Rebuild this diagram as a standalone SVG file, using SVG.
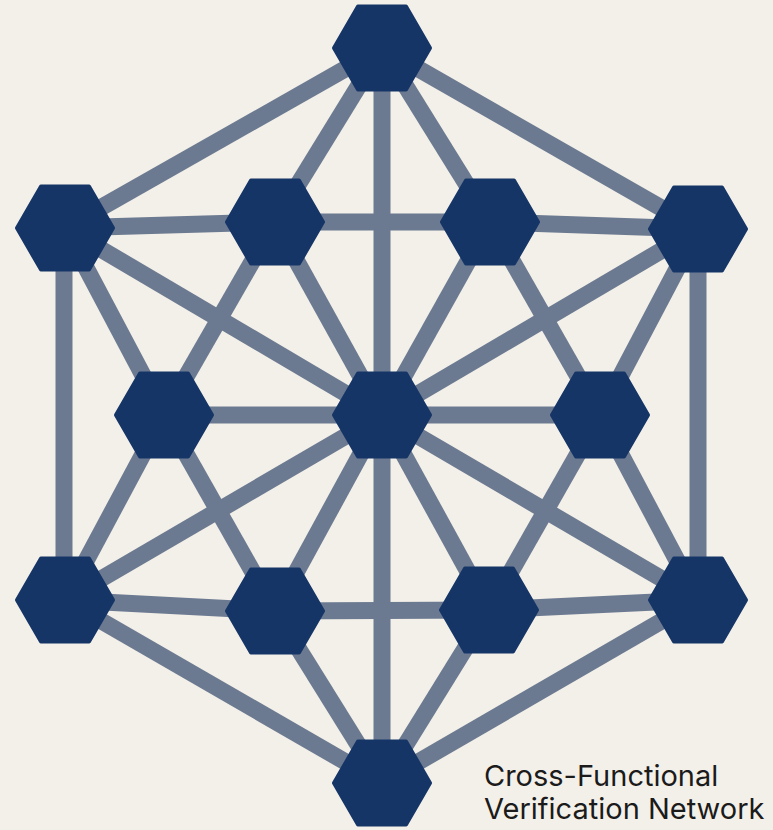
<svg xmlns="http://www.w3.org/2000/svg" xmlns:xlink="http://www.w3.org/1999/xlink" width="773" height="830" viewBox="0 0 773 830">
<style>
.edge{stroke:#6c7a91;stroke-width:17;stroke-linecap:butt;fill:none}
.hex{fill:#163567;stroke:#163567;stroke-width:4;stroke-linejoin:round}
.lbl{font-family:Inter,"Liberation Sans",sans-serif;font-size:29px;fill:#1b1b1b}
</style>
<defs>
<polygon id="hx" points="-48,0 -24,-41.6 24,-41.6 48,0 24,41.6 -24,41.6"/>
</defs>
<rect width="773" height="830" fill="#f3f0e9"/>
<g id="connectors">
<line class="edge" x1="382" y1="48" x2="65" y2="228"/>
<line class="edge" x1="382" y1="48" x2="275" y2="222"/>
<line class="edge" x1="382" y1="48" x2="382" y2="415"/>
<line class="edge" x1="382" y1="48" x2="490" y2="222"/>
<line class="edge" x1="382" y1="48" x2="698" y2="229"/>
<line class="edge" x1="65" y1="228" x2="275" y2="222"/>
<line class="edge" x1="65" y1="228" x2="164" y2="415"/>
<line class="edge" x1="65" y1="228" x2="382" y2="415"/>
<line class="edge" x1="64" y1="228" x2="64" y2="600"/>
<line class="edge" x1="275" y1="222" x2="490" y2="222"/>
<line class="edge" x1="275" y1="222" x2="164" y2="415"/>
<line class="edge" x1="275" y1="222" x2="382" y2="415"/>
<line class="edge" x1="490" y1="222" x2="698" y2="229"/>
<line class="edge" x1="490" y1="222" x2="382" y2="415"/>
<line class="edge" x1="490" y1="222" x2="600" y2="415"/>
<line class="edge" x1="698" y1="229" x2="382" y2="415"/>
<line class="edge" x1="698" y1="229" x2="600" y2="415"/>
<line class="edge" x1="698" y1="229" x2="698" y2="600"/>
<line class="edge" x1="164" y1="415" x2="382" y2="415"/>
<line class="edge" x1="164" y1="415" x2="65" y2="600"/>
<line class="edge" x1="164" y1="415" x2="275" y2="611"/>
<line class="edge" x1="382" y1="415" x2="600" y2="415"/>
<line class="edge" x1="382" y1="415" x2="65" y2="600"/>
<line class="edge" x1="382" y1="415" x2="275" y2="611"/>
<line class="edge" x1="382" y1="415" x2="382" y2="783"/>
<line class="edge" x1="382" y1="415" x2="489" y2="610"/>
<line class="edge" x1="382" y1="415" x2="698" y2="600"/>
<line class="edge" x1="600" y1="415" x2="489" y2="610"/>
<line class="edge" x1="600" y1="415" x2="698" y2="600"/>
<line class="edge" x1="65" y1="600" x2="275" y2="611"/>
<line class="edge" x1="65" y1="600" x2="382" y2="783"/>
<line class="edge" x1="275" y1="611" x2="489" y2="610"/>
<line class="edge" x1="275" y1="611" x2="382" y2="783"/>
<line class="edge" x1="489" y1="610" x2="698" y2="600"/>
<line class="edge" x1="489" y1="610" x2="382" y2="783"/>
<line class="edge" x1="698" y1="600" x2="382" y2="783"/>
</g>
<g id="node-top"><use xlink:href="#hx" class="hex" x="382" y="48"/></g>
<g id="node-outer-upper-left"><use xlink:href="#hx" class="hex" x="65" y="228"/></g>
<g id="node-inner-upper-left"><use xlink:href="#hx" class="hex" x="275" y="222"/></g>
<g id="node-inner-upper-right"><use xlink:href="#hx" class="hex" x="490" y="222"/></g>
<g id="node-outer-upper-right"><use xlink:href="#hx" class="hex" x="698" y="229"/></g>
<g id="node-middle-left"><use xlink:href="#hx" class="hex" x="164" y="415"/></g>
<g id="node-center"><use xlink:href="#hx" class="hex" x="382" y="415"/></g>
<g id="node-middle-right"><use xlink:href="#hx" class="hex" x="600" y="415"/></g>
<g id="node-outer-lower-left"><use xlink:href="#hx" class="hex" x="65" y="600"/></g>
<g id="node-inner-lower-left"><use xlink:href="#hx" class="hex" x="275" y="611"/></g>
<g id="node-inner-lower-right"><use xlink:href="#hx" class="hex" x="489" y="610"/></g>
<g id="node-outer-lower-right"><use xlink:href="#hx" class="hex" x="698" y="600"/></g>
<g id="node-bottom"><use xlink:href="#hx" class="hex" x="382" y="783"/></g>
<g id="caption">
<text class="lbl" x="484" y="786">Cross-Functional</text>
<text class="lbl" x="484" y="819">Verification Network</text>
</g>
</svg>
